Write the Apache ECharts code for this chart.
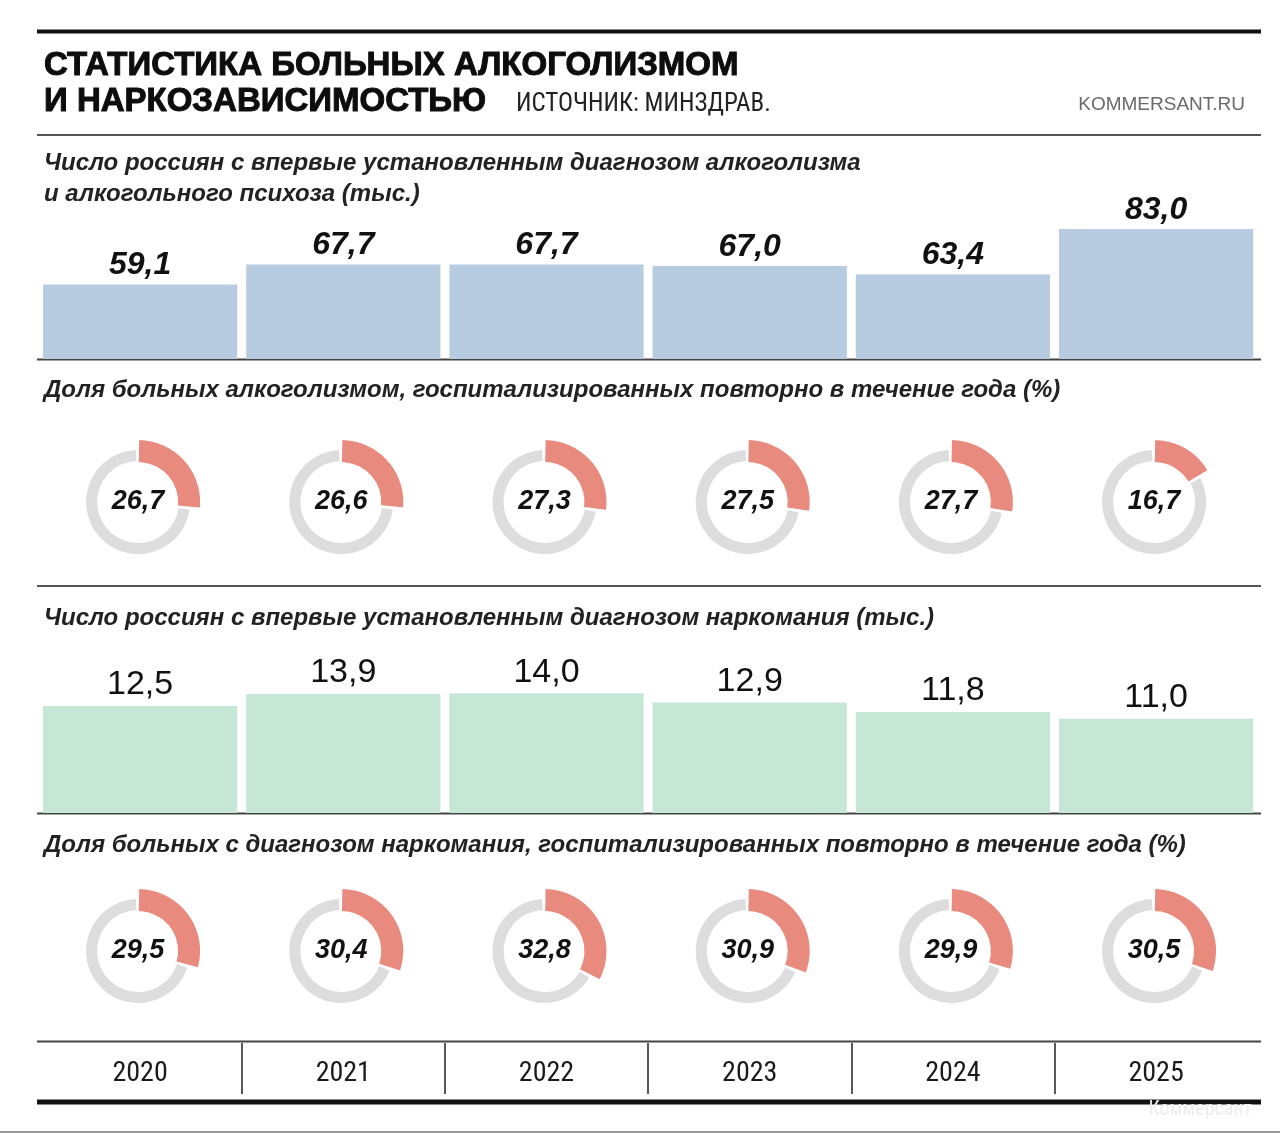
<!DOCTYPE html>
<html><head><meta charset="utf-8">
<script src="https://cdn.jsdelivr.net/npm/echarts@6/dist/echarts.min.js"></script>
<style>html,body{margin:0;padding:0;background:#fff}#c{width:1280px;height:1133px}</style>
</head><body><div id="c"></div>
<script>
const years = ['2020','2021','2022','2023','2024','2025'];
const alcoNew = [59.1, 67.7, 67.7, 67.0, 63.4, 83.0];
const alcoRehosp = [26.7, 26.6, 27.3, 27.5, 27.7, 16.7];
const drugNew = [12.5, 13.9, 14.0, 12.9, 11.8, 11.0];
const drugRehosp = [29.5, 30.4, 32.8, 30.9, 29.9, 30.5];

const titleLines = ['СТАТИСТИКА БОЛЬНЫХ АЛКОГОЛИЗМОМ', 'И НАРКОЗАВИСИМОСТЬЮ'];
const sourceText = 'ИСТОЧНИК: МИНЗДРАВ.';
const siteText = 'KOMMERSANT.RU';
const sub1 = ['Число россиян с впервые установленным диагнозом алкоголизма', 'и алкогольного психоза (тыс.)'];
const sub2 = 'Доля больных алкоголизмом, госпитализированных повторно в течение года (%)';
const sub3 = 'Число россиян с впервые установленным диагнозом наркомания (тыс.)';
const sub4 = 'Доля больных с диагнозом наркомания, госпитализированных повторно в течение года (%)';

const fmt = v => v.toFixed(1).replace('.', ',');
const SANS = '"Liberation Sans", Arial, sans-serif';
const NARROW = '"Liberation Sans Narrow", "Roboto Condensed", "DejaVu Sans Condensed", sans-serif';

const chart = echarts.init(document.getElementById('c'), null, {renderer: 'canvas'});

const GL = 38.5, GW = 1219.2;
function txt(x, y, text, font, color, align, stroke) {
  const style = {text: text, font: font, fill: color || '#1a1a1a', textAlign: align || 'left', textVerticalAlign: 'middle'};
  if (stroke) { style.stroke = color; style.lineWidth = stroke; }
  return {type: 'text', x: x, y: y, silent: true, style: style};
}
function hline(y, w, color) {
  return {type: 'line', silent: true, shape: {x1: 37, y1: y, x2: 1261, y2: y}, style: {stroke: color, lineWidth: w}};
}
const subFont = 'italic bold 24px ' + SANS;

const option = {
  animation: false,
  backgroundColor: '#fff',
  grid: [
    {left: GL, width: GW, top: 201, height: 158},
    {left: GL, width: GW, top: 676, height: 137},
    {left: GL, width: GW, top: 1043, height: 51}
  ],
  xAxis: [0, 1, 2].map(i => ({
    type: 'category', data: years, gridIndex: i, boundaryGap: true,
    axisLine: {show: false}, axisTick: {show: false},
    axisLabel: i === 2 ? {show: true, inside: true, margin: 20, verticalAlign: 'middle',
      fontSize: 28, fontFamily: NARROW, color: '#1a1a1a'} : {show: false},
    splitLine: i === 2 ? {show: true, showMinLine: false, showMaxLine: false,
      lineStyle: {color: '#222', width: 1.5}} : {show: false}
  })),
  yAxis: [
    {type: 'value', gridIndex: 0, min: 27, max: 95, show: false},
    {type: 'value', gridIndex: 1, min: 0, max: 16, show: false},
    {type: 'value', gridIndex: 2, min: 0, max: 1, show: false}
  ],
  series: [
    {type: 'bar', xAxisIndex: 0, yAxisIndex: 0, data: alcoNew, barCategoryGap: '4.4%',
      itemStyle: {color: '#B7CCE1'}, emphasis: {disabled: true}, silent: true,
      label: {show: true, position: 'top', distance: 3, formatter: p => fmt(p.value),
        fontSize: 32, fontWeight: 'bold', fontStyle: 'italic', fontFamily: SANS, color: '#111'}},
    {type: 'bar', xAxisIndex: 1, yAxisIndex: 1, data: drugNew, barCategoryGap: '4.4%',
      itemStyle: {color: '#C6E6D6'}, emphasis: {disabled: true}, silent: true,
      label: {show: true, position: 'top', distance: 4, formatter: p => fmt(p.value),
        fontSize: 34, fontWeight: 'normal', fontFamily: SANS, color: '#111'}}
  ],
  graphic: [
    hline(31.5, 4, '#111'),
    txt(44, 66, titleLines[0], 'bold 33px ' + SANS, '#0d0d0d', 'left', 1),
    txt(44, 102, titleLines[1], 'bold 33px ' + SANS, '#0d0d0d', 'left', 1),
    txt(516, 105, sourceText, '25px ' + NARROW, '#222'),
    txt(1245, 105, siteText, '19px ' + SANS, '#6a6a6a', 'right'),
    hline(135, 2, '#555'),
    txt(44, 163, sub1[0], subFont, '#222'),
    txt(44, 194, sub1[1], subFont, '#222'),
    hline(359.5, 2, '#444'),
    txt(44, 390, sub2, subFont, '#222'),
    hline(586, 2, '#555'),
    txt(44, 618, sub3, subFont, '#222'),
    hline(813.5, 2, '#444'),
    txt(44, 845, sub4, subFont, '#222'),
    hline(1041.5, 2, '#444'),
    hline(1102, 5, '#111'),
    txt(1252, 1110, 'Коммерсант', '20px ' + NARROW, '#ededed', 'right'),
    {type: 'line', silent: true, shape: {x1: 0, y1: 1132, x2: 1280, y2: 1132}, style: {stroke: '#999', lineWidth: 2}}
  ]
};
chart.setOption(option);

// donuts placed at the category centres of the x axis
function donuts(values, cy) {
  const out = [];
  values.forEach((v, i) => {
    const cx = chart.convertToPixel({xAxisIndex: 0}, years[i]) - 2;
    out.push({
      type: 'pie', center: [cx, cy], radius: [41, 52], startAngle: 90, clockwise: true,
      padAngle: 5, silent: true, emphasis: {disabled: true}, label: {show: false}, labelLine: {show: false},
      data: [
        {value: v, itemStyle: {color: 'rgba(0,0,0,0)'}},
        {value: 100 - v, itemStyle: {color: '#DDDDDD'}}
      ]
    });
    out.push({
      type: 'pie', center: [cx, cy], radius: [40, 62], startAngle: 90, clockwise: true,
      padAngle: 2, silent: true, emphasis: {disabled: true}, labelLine: {show: false},
      data: [
        {value: v, itemStyle: {color: '#E98A7E'},
          label: {show: true, position: 'center', formatter: fmt(v), fontSize: 27,
            fontWeight: 'bold', fontStyle: 'italic', fontFamily: SANS, color: '#111'}},
        {value: 100 - v, itemStyle: {color: 'rgba(0,0,0,0)'}, label: {show: false}}
      ]
    });
  });
  return out;
}
const pies = donuts(alcoRehosp, 502).concat(donuts(drugRehosp, 951));
chart.setOption({series: option.series.concat(pies)});
</script>
</body></html>
